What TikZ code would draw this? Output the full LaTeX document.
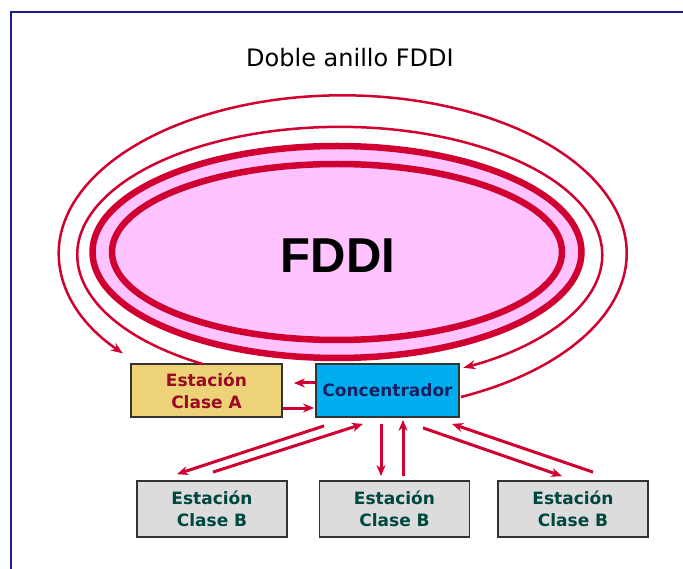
\documentclass[tikz,border=0pt]{standalone}
\usepackage{fontspec}
\usetikzlibrary{arrows.meta,calc}
\newfontfamily\dejavu{DejaVu Sans}
\newfontfamily\libsans{Liberation Sans}

\definecolor{ringred}{HTML}{D00030}
\definecolor{ringpink}{HTML}{FFC4FF}
\definecolor{goldfill}{HTML}{EDD278}
\definecolor{cyanfill}{HTML}{00AEEF}
\definecolor{grayfill}{HTML}{DCDCDC}
\definecolor{boxline}{HTML}{333333}
\definecolor{redtext}{HTML}{9A0A22}
\definecolor{navytext}{HTML}{1A2060}
\definecolor{tealtext}{HTML}{00483F}
\definecolor{framenavy}{HTML}{1C1C8C}

\tikzset{
  station/.style={draw=boxline, line width=1.8pt, minimum width=150pt,
    minimum height=56pt, inner sep=0pt, align=center,
    font=\dejavu\bfseries\fontsize{17}{22}\selectfont},
  classA/.style={station, fill=goldfill, text=redtext, minimum width=151pt, minimum height=53pt},
  classB/.style={station, fill=grayfill, text=tealtext},
  hub/.style={station, fill=cyanfill, text=navytext, minimum width=143pt, minimum height=53pt},
  link/.style={draw=ringred, line width=3pt, -{Stealth[length=11pt,width=9pt]}},
  loopline/.style={draw=ringred, line width=2.5pt},
  looparrow/.style={loopline, -{Stealth[length=12pt,width=9pt]}},
  thickring/.style={draw=ringred, line width=6.5pt}
}

\begin{document}
\begin{tikzpicture}[x=1pt, y=-1pt]
  \useasboundingbox (0,0) rectangle (683,569);
  \fill[white] (0,0) rectangle (683,569);

  % page frame
  \draw[framenavy, line width=2pt] (11,569) -- (11,12) -- (683,12);

  % title
  \node[font=\dejavu\fontsize{24}{28}\selectfont, anchor=base] (title) at (350,67) {Doble anillo FDDI};

  % the double ring
  \coordinate (ringc) at (337,252);
  \fill[ringpink] (ringc) ellipse [x radius=244.5, y radius=106];
  \draw[thickring] (ringc) ellipse [x radius=244.5, y radius=106];
  \draw[thickring] (ringc) ellipse [x radius=225, y radius=88];
  \node[font=\libsans\bfseries\fontsize{49}{55}\selectfont, anchor=base] (fddi) at (338,273) {FDDI};

  % stations
  \node[classA] (sa) at (206.5,390.5) {Estación\\Clase A};
  \node[hub] (conc) at (387.5,390.5) {Concentrador};
  \node[classB] (b1) at (212,509) {Estación\\Clase B};
  \node[classB] (b2) at (394.5,509) {Estación\\Clase B};
  \node[classB] (b3) at (573,509) {Estación\\Clase B};

  % outer loop: concentrator round to class A station
  \draw[looparrow] ([shift={(1,6.5)}]conc.east)
     arc [start angle=65.4, end angle=-219.3, x radius=284, y radius=158];

  % inner loop: class A station round to concentrator
  \draw[looparrow] ([shift={(-3.5,1)}]sa.north)
     arc [start angle=121.4, end angle=421.9, x radius=262.5, y radius=128];

  % class A <-> concentrator
  \draw[link] ([shift={(0,-7.5)}]conc.west) -- ([shift={(11,-7.5)}]sa.east);
  \draw[link] ([shift={(0,17.5)}]sa.east) -- ([shift={(-1,17.5)}]conc.west);

  % concentrator <-> class B stations
  \draw[link] ([shift={(-63.5,8)}]conc.south) -- ([shift={(-35,-6)}]b1.north);
  \draw[link] ([shift={(1,-8)}]b1.north) -- ([shift={(-24.5,6)}]conc.south);
  \draw[link] ([shift={(-6.5,6)}]conc.south) -- ([shift={(-13.5,-4)}]b2.north);
  \draw[link] ([shift={(8.5,-4)}]b2.north) -- ([shift={(15.5,2)}]conc.south);
  \draw[link] ([shift={(35.5,10)}]conc.south) -- ([shift={(-11,-4)}]b3.north);
  \draw[link] ([shift={(20,-8)}]b3.north) -- ([shift={(64.5,6)}]conc.south);
\end{tikzpicture}
\end{document}
